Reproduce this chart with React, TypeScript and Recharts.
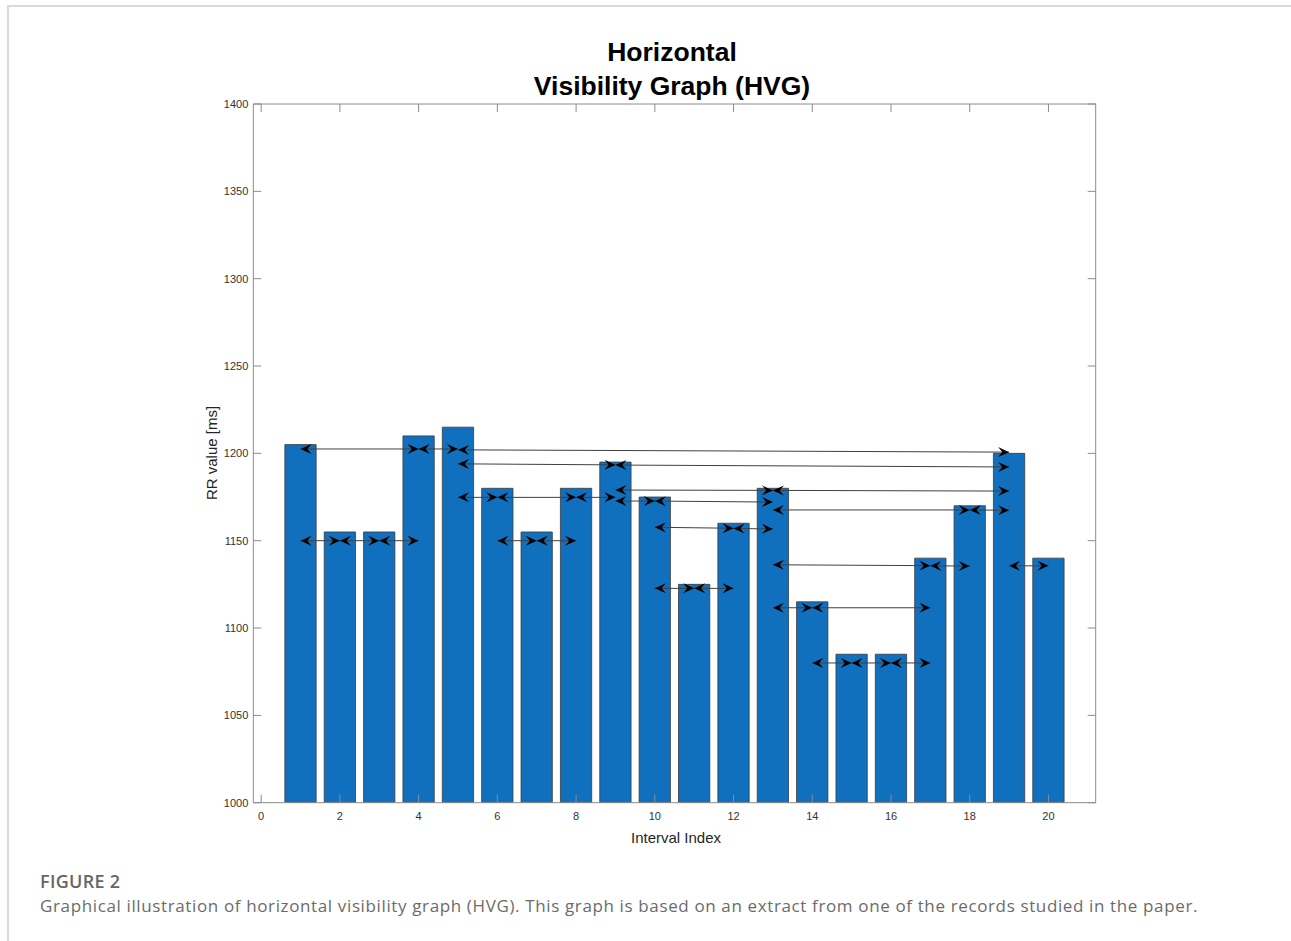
import React from 'react';
import { BarChart, Bar, XAxis, YAxis, ReferenceLine } from 'recharts';

// RR intervals of the extract, one bar per interval index
const intervalIndex = [1, 2, 3, 4, 5, 6, 7, 8, 9, 10, 11, 12, 13, 14, 15, 16, 17, 18, 19, 20];
const rrValues = [1205, 1155, 1155, 1210, 1215, 1180, 1155, 1180, 1195, 1175, 1125, 1160, 1180, 1115, 1085, 1085, 1140, 1170, 1200, 1140];

const xTicks = [0, 2, 4, 6, 8, 10, 12, 14, 16, 18, 20];
const yTicks = [1000, 1050, 1100, 1150, 1200, 1250, 1300, 1350, 1400];

// HVG links: [from index, to index, level at start (ms), level at end (ms)]
const visibilityLinks: [number, number, number, number][] = [
  [1, 4, 1202.5, 1202.5],
  [4, 5, 1202.5, 1202.5],
  [5, 19, 1202, 1200.7],
  [5, 9, 1194, 1193.4],
  [9, 19, 1193.3, 1192.2],
  [9, 13, 1179, 1178.8],
  [13, 19, 1178.8, 1178.4],
  [5, 6, 1174.8, 1174.8],
  [6, 8, 1174.8, 1174.8],
  [8, 9, 1174.8, 1174.8],
  [9, 10, 1172.7, 1172.7],
  [10, 13, 1172.7, 1172.1],
  [13, 18, 1167.6, 1167.6],
  [18, 19, 1167.6, 1167.4],
  [10, 12, 1157.7, 1157.1],
  [12, 13, 1157, 1156.7],
  [1, 2, 1150, 1150],
  [2, 3, 1150, 1150],
  [3, 4, 1150, 1150],
  [6, 7, 1150, 1150],
  [7, 8, 1150, 1150],
  [10, 11, 1122.7, 1122.7],
  [11, 12, 1122.7, 1122.7],
  [13, 17, 1136.2, 1135.7],
  [17, 18, 1135.6, 1135.5],
  [19, 20, 1135.6, 1135.6],
  [13, 14, 1111.6, 1111.6],
  [14, 17, 1111.6, 1111.6],
  [14, 15, 1080, 1080],
  [15, 16, 1080, 1080],
  [16, 17, 1080, 1080],
];

const chartData = intervalIndex.map((idx, i) => ({ idx, rr: rrValues[i] }));

const AXIS_COLOR = '#8c8c8c';
const LABEL_COLOR = '#333333';
const TICK_LEN = 8;
const FONT = 'Liberation Sans, Arial, Helvetica, sans-serif';

// Ticks point into the plot box, MATLAB style
const BottomTick = (props: any) => {
  const { x, y, payload } = props;
  const axisY = y - 13;
  return (
    <g>
      <line x1={x} x2={x} y1={axisY} y2={axisY - TICK_LEN} stroke={AXIS_COLOR} strokeWidth={1} />
      <text x={x} y={y} dy="0.35em" textAnchor="middle" fontSize={11} fontFamily={FONT} fill={LABEL_COLOR}>
        {payload.value}
      </text>
    </g>
  );
};

const LeftTick = (props: any) => {
  const { x, y, payload } = props;
  const axisX = x + 5;
  return (
    <g>
      <line x1={axisX} x2={axisX + TICK_LEN} y1={y} y2={y} stroke={AXIS_COLOR} strokeWidth={1} />
      <text x={x} y={y} dy="0.35em" textAnchor="end" fontSize={11} fontFamily={FONT} fill={LABEL_COLOR}>
        {payload.value}
      </text>
    </g>
  );
};

const TopTick = (props: any) => {
  const { x, y } = props;
  return <line x1={x} x2={x} y1={y} y2={y + TICK_LEN} stroke={AXIS_COLOR} strokeWidth={1} />;
};

const RightTick = (props: any) => {
  const { x, y } = props;
  return <line x1={x} x2={x - TICK_LEN} y1={y} y2={y} stroke={AXIS_COLOR} strokeWidth={1} />;
};

// Notched dart head with its tip on (tx, ty), pointing along (ux, uy)
const HEAD_LEN = 11;
const HEAD_HALF = 5;
const headPath = (tx: number, ty: number, ux: number, uy: number) => {
  const px = -uy;
  const py = ux;
  const bx = tx - ux * HEAD_LEN;
  const by = ty - uy * HEAD_LEN;
  const nx = tx - ux * HEAD_LEN * 0.62;
  const ny = ty - uy * HEAD_LEN * 0.62;
  return `M${tx},${ty} L${bx + px * HEAD_HALF},${by + py * HEAD_HALF} L${nx},${ny} L${bx - px * HEAD_HALF},${by - py * HEAD_HALF} Z`;
};

const VisibilityArrow = (props: any) => {
  const { x1, y1, x2, y2 } = props;
  const dx = x2 - x1;
  const dy = y2 - y1;
  const len = Math.hypot(dx, dy) || 1;
  const ux = dx / len;
  const uy = dy / len;
  return (
    <g>
      <line x1={x1} y1={y1} x2={x2} y2={y2} stroke="#404040" strokeWidth={1} />
      <path d={headPath(x2, y2, ux, uy)} fill="#000" />
      <path d={headPath(x1, y1, -ux, -uy)} fill="#000" />
    </g>
  );
};

export default function App() {
  return (
    <div style={{ position: 'absolute', left: 0, top: 0, width: 1291, height: 941, background: '#fff', overflow: 'hidden' }}>
      {/* panel frame */}
      <div style={{ position: 'absolute', left: 7, top: 5, right: 0, height: 2, background: '#d9d9d9' }} />
      <div style={{ position: 'absolute', left: 7, top: 5, width: 2, bottom: 0, background: '#d9d9d9' }} />

      <div style={{ position: 'absolute', left: 0, top: 0 }}>
        <BarChart
          width={1291}
          height={860}
          data={chartData}
          margin={{ top: 103, right: 194.3, bottom: 27.3, left: 203.3 }}
        >
          <XAxis
            dataKey="idx"
            type="number"
            domain={[-0.2, 21.2]}
            ticks={xTicks}
            interval={0}
            height={30}
            tickSize={0}
            tickMargin={13}
            tick={<BottomTick />}
            axisLine={{ stroke: AXIS_COLOR, strokeWidth: 1 }}
            allowDataOverflow
          />
          <XAxis
            xAxisId="top"
            dataKey="idx"
            orientation="top"
            type="number"
            domain={[-0.2, 21.2]}
            ticks={xTicks}
            interval={0}
            height={1}
            tickSize={0}
            tickMargin={0}
            tick={<TopTick />}
            axisLine={{ stroke: AXIS_COLOR, strokeWidth: 1 }}
            allowDataOverflow
          />
          <YAxis
            type="number"
            domain={[1000, 1400]}
            ticks={yTicks}
            interval={0}
            width={50}
            tickSize={0}
            tickMargin={5}
            tick={<LeftTick />}
            axisLine={{ stroke: AXIS_COLOR, strokeWidth: 1 }}
            allowDataOverflow
          />
          <YAxis
            yAxisId="right"
            orientation="right"
            type="number"
            domain={[1000, 1400]}
            ticks={yTicks}
            interval={0}
            width={1}
            tickSize={0}
            tickMargin={0}
            tick={<RightTick />}
            axisLine={{ stroke: AXIS_COLOR, strokeWidth: 1 }}
            allowDataOverflow
          />
          <Bar
            dataKey="rr"
            barSize={31.3}
            fill="#1170BE"
            stroke="#3a3a3a"
            strokeWidth={0.8}
            isAnimationActive={false}
          />
          {visibilityLinks.map(([from, to, yFrom, yTo], k) => (
            <ReferenceLine
              key={k}
              segment={[
                { x: from, y: yFrom },
                { x: to, y: yTo },
              ]}
              shape={VisibilityArrow}
              ifOverflow="visible"
            />
          ))}
        </BarChart>
      </div>

      {/* title and axis labels */}
      <svg width={1291} height={941} style={{ position: 'absolute', left: 0, top: 0, pointerEvents: 'none' }}>
        <text x={672} y={61} textAnchor="middle" fontFamily={FONT} fontWeight="bold" fontSize={26.5} fill="#000">
          Horizontal
        </text>
        <text x={672} y={95} textAnchor="middle" fontFamily={FONT} fontWeight="bold" fontSize={26.5} fill="#000">
          Visibility Graph (HVG)
        </text>
        <text x={676} y={843} textAnchor="middle" fontFamily={FONT} fontSize={15} fill="#262626">
          Interval Index
        </text>
        <text
          x={217}
          y={453}
          textAnchor="middle"
          fontFamily={FONT}
          fontSize={15}
          fill="#262626"
          transform="rotate(-90 217 453)"
        >
          RR value [ms]
        </text>
      </svg>

      {/* figure caption */}
      <div
        style={{
          position: 'absolute',
          left: 40,
          top: 870,
          fontFamily: 'Open Sans, sans-serif',
          fontWeight: 600,
          fontSize: 18,
          letterSpacing: 0.3,
          color: '#666',
          lineHeight: '22px',
          whiteSpace: 'nowrap',
        }}
      >
        FIGURE 2
      </div>
      <div
        style={{
          position: 'absolute',
          left: 40,
          top: 895,
          fontFamily: 'Open Sans, sans-serif',
          fontSize: 17,
          letterSpacing: 0.63,
          color: '#6b6b6b',
          lineHeight: '22px',
          whiteSpace: 'nowrap',
        }}
      >
        Graphical illustration of horizontal visibility graph (HVG). This graph is based on an extract from one of the records studied in the paper.
      </div>
    </div>
  );
}
